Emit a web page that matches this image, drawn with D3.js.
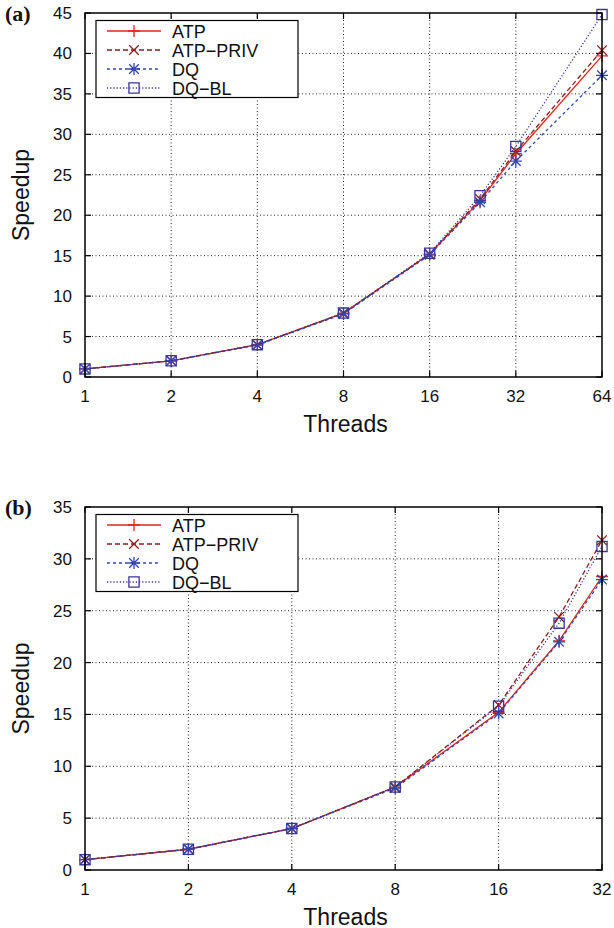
<!DOCTYPE html>
<html lang="en">
<head>
    <meta charset="UTF-8">
    <title>Speedup vs Threads</title>
    <script src="https://cdn.jsdelivr.net/npm/d3@7"></script>
    <style>
        body { margin: 0; background: #fff; }
        text { font-family: "Liberation Sans", Arial, sans-serif; fill: #111; }
    </style>
</head>
<body>
<script>
    // Data ////////////////////////////////////
    var seriesNames = ['ATP', 'ATP\u2212PRIV', 'DQ', 'DQ\u2212BL'];

    var threadsA = [1, 2, 4, 8, 16, 24, 32, 64];
    var atpA     = [1, 2, 4, 7.9, 15.2, 21.8, 27.6, 39.7];
    var atpPrivA = [1, 2, 4, 7.9, 15.2, 22.0, 27.9, 40.4];
    var dqA      = [1, 2, 3.95, 7.8, 15.1, 21.6, 26.7, 37.3];
    var dqBlA    = [1, 2, 4, 7.9, 15.3, 22.4, 28.5, 44.8];
    var xTicksA  = [1, 2, 4, 8, 16, 32, 64];
    var yTicksA  = [0, 5, 10, 15, 20, 25, 30, 35, 40, 45];

    var threadsB = [1, 2, 4, 8, 16, 24, 32];
    var atpB     = [1, 2, 4, 8, 15.2, 22.1, 28.3];
    var atpPrivB = [1, 2, 4, 8, 15.9, 24.4, 31.8];
    var dqB      = [1, 2, 4, 7.9, 15.1, 22.0, 28.0];
    var dqBlB    = [1, 2, 4, 8, 15.8, 23.8, 31.2];
    var xTicksB  = [1, 2, 4, 8, 16, 32];
    var yTicksB  = [0, 5, 10, 15, 20, 25, 30, 35];

    // Styles ////////////////////////////////////
    var styles = [
        {color: '#e3241b', dash: null, marker: 'plus'},
        {color: '#8e1c1c', dash: '5,3', marker: 'cross'},
        {color: '#3346b0', dash: '3,3', marker: 'star'},
        {color: '#3b3596', dash: '1.2,2', marker: 'square'}
    ];

    var W = 614, H = 928;
    var svg = d3.select('body').append('svg').attr('width', W).attr('height', H);

    function markerPath(type, r) {
        var p = d3.path();
        if (type === 'plus' || type === 'star') {
            p.moveTo(-r, 0); p.lineTo(r, 0);
            p.moveTo(0, -r); p.lineTo(0, r);
        }
        if (type === 'cross' || type === 'star') {
            var d = r * 0.8;
            p.moveTo(-d, -d); p.lineTo(d, d);
            p.moveTo(-d, d); p.lineTo(d, -d);
        }
        if (type === 'square') {
            p.rect(-r * 0.85, -r * 0.85, r * 1.7, r * 1.7);
        }
        return p.toString();
    }

    function drawPanel(cfg) {
        var g = svg.append('g');
        var x = d3.scaleLog().base(2).domain(cfg.xDomain).range([cfg.left, cfg.right]);
        var y = d3.scaleLinear().domain(cfg.yDomain).range([cfg.bottom, cfg.top]);

        // grid
        g.selectAll('line.gx').data(cfg.xTicks.slice(1, -1)).enter().append('line')
            .attr('x1', function (d) { return x(d); }).attr('x2', function (d) { return x(d); })
            .attr('y1', cfg.top).attr('y2', cfg.bottom)
            .attr('stroke', '#222').attr('stroke-width', 1).attr('stroke-dasharray', '1,2.5');
        g.selectAll('line.gy').data(cfg.yTicks.slice(1, -1)).enter().append('line')
            .attr('y1', function (d) { return y(d); }).attr('y2', function (d) { return y(d); })
            .attr('x1', cfg.left).attr('x2', cfg.right)
            .attr('stroke', '#222').attr('stroke-width', 1).attr('stroke-dasharray', '1,2.5');

        // ticks on all sides (inward)
        var tl = 6;
        cfg.xTicks.forEach(function (t) {
            g.append('line').attr('x1', x(t)).attr('x2', x(t)).attr('y1', cfg.bottom).attr('y2', cfg.bottom - tl)
                .attr('stroke', '#000').attr('stroke-width', 1.2);
            g.append('line').attr('x1', x(t)).attr('x2', x(t)).attr('y1', cfg.top).attr('y2', cfg.top + tl)
                .attr('stroke', '#000').attr('stroke-width', 1.2);
        });
        cfg.yTicks.forEach(function (t) {
            g.append('line').attr('y1', y(t)).attr('y2', y(t)).attr('x1', cfg.left).attr('x2', cfg.left + tl)
                .attr('stroke', '#000').attr('stroke-width', 1.2);
            g.append('line').attr('y1', y(t)).attr('y2', y(t)).attr('x1', cfg.right).attr('x2', cfg.right - tl)
                .attr('stroke', '#000').attr('stroke-width', 1.2);
        });

        // tick labels
        g.selectAll('text.xt').data(cfg.xTicks).enter().append('text')
            .attr('x', function (d) { return x(d); }).attr('y', cfg.bottom + 25)
            .attr('text-anchor', 'middle').attr('font-size', 17).text(function (d) { return d; });
        g.selectAll('text.yt').data(cfg.yTicks).enter().append('text')
            .attr('x', cfg.left - 13).attr('y', function (d) { return y(d) + 6; })
            .attr('text-anchor', 'end').attr('font-size', 17).text(function (d) { return d; });

        // axis titles
        g.append('text').attr('x', (cfg.left + cfg.right) / 2 + 2).attr('y', cfg.bottom + 54.5)
            .attr('text-anchor', 'middle').attr('font-size', 23).text('Threads');
        g.append('text')
            .attr('transform', 'translate(29,' + ((cfg.top + cfg.bottom) / 2) + ') rotate(-90)')
            .attr('text-anchor', 'middle').attr('font-size', 23).text('Speedup');
        g.append('text').attr('x', 5).attr('y', cfg.top + 8)
            .style('font-family', '"Liberation Serif", "Times New Roman", serif')
            .attr('font-weight', 'bold').attr('font-size', 22).text(cfg.label);

        // series
        var line = d3.line().x(function (d) { return x(d[0]); }).y(function (d) { return y(d[1]); });
        cfg.series.forEach(function (vals, si) {
            var st = styles[si];
            var pts = cfg.threads.map(function (t, i) { return [t, vals[i]]; });
            g.append('path').datum(pts).attr('d', line).attr('fill', 'none')
                .attr('stroke', st.color).attr('stroke-width', 1.3)
                .attr('stroke-dasharray', st.dash);
            g.selectAll(null).data(pts).enter().append('path')
                .attr('transform', function (d) { return 'translate(' + x(d[0]) + ',' + y(d[1]) + ')'; })
                .attr('d', markerPath(st.marker, 6)).attr('fill', 'none')
                .attr('stroke', st.color).attr('stroke-width', 1.3);
        });

        // frame
        g.append('rect').attr('x', cfg.left).attr('y', cfg.top)
            .attr('width', cfg.right - cfg.left).attr('height', cfg.bottom - cfg.top)
            .attr('fill', 'none').attr('stroke', '#000').attr('stroke-width', 1.5);

        // legend
        var lg = g.append('g').attr('transform', 'translate(96,' + (cfg.top + 7.5) + ')');
        lg.append('rect').attr('width', 202).attr('height', 77)
            .attr('fill', '#fff').attr('stroke', '#000').attr('stroke-width', 1.2);
        seriesNames.forEach(function (name, i) {
            var st = styles[i];
            var ly = 10.5 + i * 19;
            lg.append('line').attr('x1', 11).attr('x2', 65).attr('y1', ly).attr('y2', ly)
                .attr('stroke', st.color).attr('stroke-width', 1.3).attr('stroke-dasharray', st.dash);
            lg.append('path').attr('transform', 'translate(38,' + ly + ')')
                .attr('d', markerPath(st.marker, 6)).attr('fill', 'none')
                .attr('stroke', st.color).attr('stroke-width', 1.3);
            lg.append('text').attr('x', 76).attr('y', ly + 6.5).attr('font-size', 18).text(name);
        });
    }

    drawPanel({
        label: '(a)', left: 85, right: 602, top: 13, bottom: 377,
        xDomain: [1, 64], yDomain: [0, 45], xTicks: xTicksA, yTicks: yTicksA,
        threads: threadsA, series: [atpA, atpPrivA, dqA, dqBlA]
    });

    drawPanel({
        label: '(b)', left: 85, right: 602, top: 507, bottom: 870,
        xDomain: [1, 32], yDomain: [0, 35], xTicks: xTicksB, yTicks: yTicksB,
        threads: threadsB, series: [atpB, atpPrivB, dqB, dqBlB]
    });
</script>
</body>
</html>
